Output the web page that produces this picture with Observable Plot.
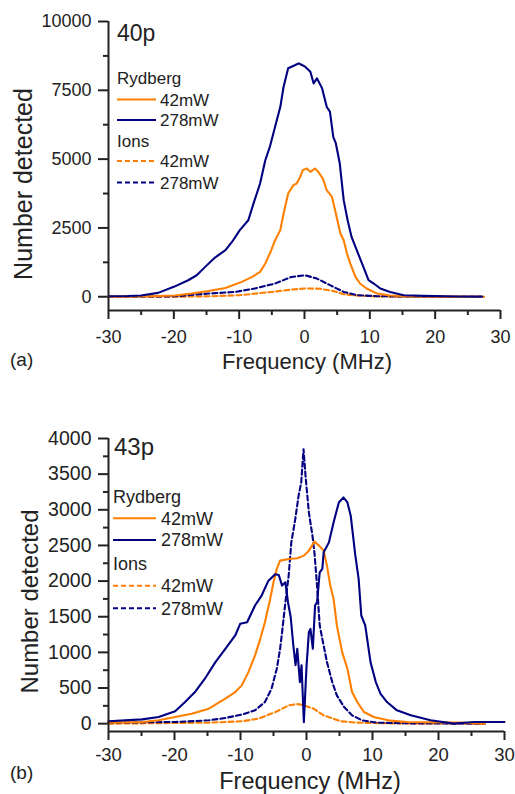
<!DOCTYPE html>
<html><head><meta charset="utf-8">
<script src="https://cdn.jsdelivr.net/npm/d3@7"></script>
<script src="https://cdn.jsdelivr.net/npm/@observablehq/plot@0.6"></script>
<style>
body{margin:0;background:#fff;}
#wrap{width:515px;}
svg{display:block;}
</style></head><body><div id="wrap"></div>
<script>
// ---------- Panel (a) 40p ----------
const aRyd278F = [-30,-27,-25,-22.4,-20,-17.8,-16.5,-15.2,-13.7,-12.1,-11.1,-9.9,-8.6,-7.8,-6.8,-6.0,-5.3,-4.5,-3.7,-3.2,-2.5,-1.4,-0.9,-0.4,0.1,0.9,1.4,1.9,2.7,3.4,3.9,4.4,4.8,5.4,6.0,6.6,7.2,8.0,8.8,9.8,10.6,11.6,13.1,15.2,18.2,23.3,27.2];
const aRyd278N = [20,25,45,140,360,600,780,1085,1425,1690,1990,2420,2780,3390,4115,4960,5450,6175,6900,7630,8300,8420,8480,8420,8360,8175,7750,7935,7570,6900,6720,5810,5570,4840,3510,2780,2175,1690,1210,600,480,300,175,55,30,10,5];
const aRyd42F = [-30,-25,-19.8,-17.3,-14.7,-12.1,-9.6,-8.0,-6.8,-6.0,-5.3,-4.5,-3.7,-3.2,-2.5,-1.7,-1.2,-0.66,-0.26,0.35,0.9,1.6,2.1,2.8,3.4,4.2,4.8,5.5,6.0,6.5,7.0,7.8,8.5,9.5,11.1,13.1,15.7,20,27.5];
const aRyd42N = [0,10,45,115,210,320,540,720,900,1210,1570,2055,2420,3025,3750,4055,4115,4355,4600,4660,4540,4660,4540,4300,3870,3630,3025,2300,2055,1570,1210,720,480,300,115,45,15,5,0];
const aIon278F = [-30,-25,-19.8,-14.7,-10.6,-7.6,-4.5,-2.0,0.1,1.9,3.9,6.0,8.0,11.1,15,20,27];
const aIon278N = [0,5,15,115,175,300,480,720,780,660,420,175,55,20,8,3,0];
const aIon42F = [-30,-20,-14.7,-10,-5,-2,0,0.6,2.4,4.4,6.0,8.0,11.1,15,27];
const aIon42N = [0,0,15,55,175,260,300,300,290,210,90,45,10,3,0];

// ---------- Panel (b) 43p ----------
const bRyd278F = [-30,-24.9,-22.4,-19.9,-18.4,-16.9,-15.4,-13.8,-12.3,-10.8,-10.05,-9.0,-7.8,-6.8,-5.8,-4.75,-4.2,-3.7,-3.2,-2.8,-2.4,-2.0,-1.66,-1.4,-1.0,-0.75,-0.4,0.0,0.36,0.6,0.96,1.3,1.6,2.0,2.4,2.6,3.4,4.1,4.9,5.6,6.2,6.7,7.4,7.9,8.3,8.9,9.7,10.5,11.2,12.2,13.7,15.8,18.8,22.3,25.4,30];
const bRyd278N = [33,60,93,173,303,443,630,863,1050,1237,1400,1423,1657,1797,2000,2095,2086,1937,1983,1700,1500,1100,820,1050,583,820,20,800,1283,1330,1050,1657,1703,2123,2170,2403,2543,2823,3103,3173,3103,2917,2357,2030,1517,1377,863,583,420,303,187,117,47,0,23,23];
const bRyd42F = [-30,-24.9,-22.4,-19.9,-17.4,-14.8,-12.3,-10.8,-9.8,-8.8,-7.8,-7.0,-6.3,-5.5,-5.0,-4.5,-4.0,-2.7,-1.4,-0.4,0.36,1.2,1.9,2.6,3.1,3.6,4.1,4.6,5.4,6.2,6.9,7.7,8.7,10.2,12.7,15.3,22.8,27];
const bRyd42N = [14,23,47,93,140,210,350,443,537,723,957,1190,1423,1750,1983,2170,2287,2310,2320,2357,2427,2553,2497,2427,2217,1937,1750,1377,1003,770,443,303,163,93,42,23,14,0];
const bIon278F = [-30,-19.9,-14.8,-12.3,-9.8,-7.8,-6.3,-5.3,-4.5,-4.0,-3.7,-3.2,-2.7,-2.3,-1.7,-1.2,-0.8,-0.45,-0.15,0.36,0.9,1.2,1.6,2.0,2.5,3.1,3.9,4.6,5.7,6.9,8.4,10.7,15,27];
const bIon278N = [14,23,47,80,126,187,303,490,770,1050,1283,1703,2077,2543,2870,3197,3383,3850,3477,2963,2637,2403,1937,1377,1143,863,583,397,233,117,47,14,5,0];
const bIon42F = [-30,-14.8,-9.8,-7.3,-4.7,-2.7,-1.5,-0.7,1.1,2.6,5.2,7.7,12,27];
const bIon42N = [0,14,33,70,163,257,275,265,210,117,33,14,5,0];

// ---------- ticks & labels ----------
const xMajor = [-30,-20,-10,0,10,20,30];
const xMinor = [-25,-15,-5,5,15,25];
const aYMajor = [0,2500,5000,7500,10000];
const aYMinor = [1250,3750,6250,8750];
const bYMajor = [0,500,1000,1500,2000,2500,3000,3500,4000];
const bYMinor = [250,750,1250,1750,2250,2750,3250,3750];
const legendGroups = ["Rydberg","Ions"];
const powers = ["42mW","278mW"];
const colors = ["#ff7f00","#000080"];

const FONT = "Liberation Sans, Arial, Helvetica, sans-serif";
const INK = "#222";

const pts = (F, N) => F.map((f, i) => ({f, n: N[i]}));

function panel(cfg) {
  const [y0, y1] = cfg.yDomain;
  const lines = [
    [cfg.ion42, colors[0], "5,3"],
    [cfg.ion278, colors[1], "5,3"],
    [cfg.ryd42, colors[0], null],
    [cfg.ryd278, colors[1], null]
  ].map(([d, c, dash]) => Plot.line(d, {x: "f", y: "n", stroke: c, strokeWidth: 2.1, strokeDasharray: dash, strokeLinejoin: "round"}));
  const plot = Plot.plot({
    width: 515, height: cfg.height,
    marginLeft: 108, marginRight: cfg.mr, marginTop: cfg.mt, marginBottom: cfg.mb,
    style: {fontFamily: FONT, color: INK, background: "white", overflow: "visible"},
    x: {domain: [-30, 30]},
    y: {domain: cfg.yDomain},
    marks: [
      Plot.axisX({ticks: xMajor, tickSize: 9, tickPadding: cfg.xPad, fontSize: cfg.xFont, strokeWidth: 2, label: null, tickFormat: d => String(d)}),
      Plot.axisX({ticks: xMinor, tickSize: 5, strokeWidth: 2, fill: "none", label: null}),
      Plot.axisY({ticks: cfg.yMajor, tickSize: 10, tickPadding: 7, fontSize: cfg.yFont, strokeWidth: 2, label: null, tickFormat: d => String(d)}),
      Plot.axisY({ticks: cfg.yMinor, tickSize: 5, strokeWidth: 2, fill: "none", label: null}),
      ...lines,
      Plot.ruleX([-30], {y1: y0, y2: y1, stroke: INK, strokeWidth: 2}),
      Plot.ruleY([y0], {x1: -30, x2: 30, stroke: INK, strokeWidth: 2})
    ]
  });
  const svg = d3.select(plot);
  const g = svg.append("g").attr("font-family", FONT).attr("fill", INK).attr("text-anchor", "start");
  // panel tag
  g.append("text").attr("x", cfg.tag.x).attr("y", cfg.tag.y).attr("font-size", cfg.tag.size).text(cfg.tag.text);
  // y label
  g.append("text").attr("transform", `translate(${cfg.ylab.x},${cfg.ylab.y}) rotate(-90)`)
    .attr("text-anchor", "middle").attr("font-size", cfg.ylab.size).text("Number detected");
  // x label
  g.append("text").attr("x", cfg.xlab.x).attr("y", cfg.xlab.y).attr("text-anchor", "middle")
    .attr("font-size", cfg.xlab.size).text("Frequency (MHz)");
  // (a)/(b)
  g.append("text").attr("x", 10).attr("y", cfg.letter.y).attr("font-size", 19).text(cfg.letter.text);
  // legend
  const L = cfg.legend;
  legendGroups.forEach((grp, gi) => {
    const base = gi === 0 ? L.ryd : L.ion;
    g.append("text").attr("x", L.x).attr("y", base).attr("font-size", L.size).text(grp);
    powers.forEach((p, pi) => {
      const yy = L.rows[gi * 2 + pi];
      g.append("line").attr("x1", L.x).attr("x2", L.x2).attr("y1", yy).attr("y2", yy)
        .attr("stroke", colors[pi]).attr("stroke-width", 2.1)
        .attr("stroke-dasharray", gi === 1 ? "5,3" : null);
      g.append("text").attr("x", L.tx).attr("y", yy).attr("dy", "0.36em").attr("font-size", L.size).text(p);
    });
  });
  return plot;
}

const wrap = document.getElementById("wrap");
wrap.appendChild(panel({
  height: 395, mt: 21, mb: 85, mr: 15, yDomain: [-500, 10000],
  yMajor: aYMajor, yMinor: aYMinor, xPad: 11, xFont: 18, yFont: 18,
  ryd278: pts(aRyd278F, aRyd278N), ryd42: pts(aRyd42F, aRyd42N),
  ion278: pts(aIon278F, aIon278N), ion42: pts(aIon42F, aIon42N),
  tag: {text: "40p", x: 117, y: 40.5, size: 23},
  ylab: {x: 32, y: 184, size: 25},
  xlab: {x: 307, y: 369, size: 22},
  letter: {text: "(a)", y: 366},
  legend: {x: 117, x2: 156, tx: 160, size: 17, ryd: 84, ion: 147, rows: [99.5, 120, 161, 182.5]}
}));
wrap.appendChild(panel({
  height: 399, mt: 43, mb: 63, mr: 11, yDomain: [-110, 4000],
  yMajor: bYMajor, yMinor: bYMinor, xPad: 7, xFont: 18.5, yFont: 19.5,
  ryd278: pts(bRyd278F, bRyd278N), ryd42: pts(bRyd42F, bRyd42N),
  ion278: pts(bIon278F, bIon278N), ion42: pts(bIon42F, bIon42N),
  tag: {text: "43p", x: 114, y: 60, size: 24},
  ylab: {x: 38, y: 206.5, size: 24},
  xlab: {x: 310, y: 394, size: 23.5},
  letter: {text: "(b)", y: 384},
  legend: {x: 113, x2: 156, tx: 161, size: 18, ryd: 108, ion: 175, rows: [123.3, 145, 190.7, 213.3]}
}));
</script></body></html>
